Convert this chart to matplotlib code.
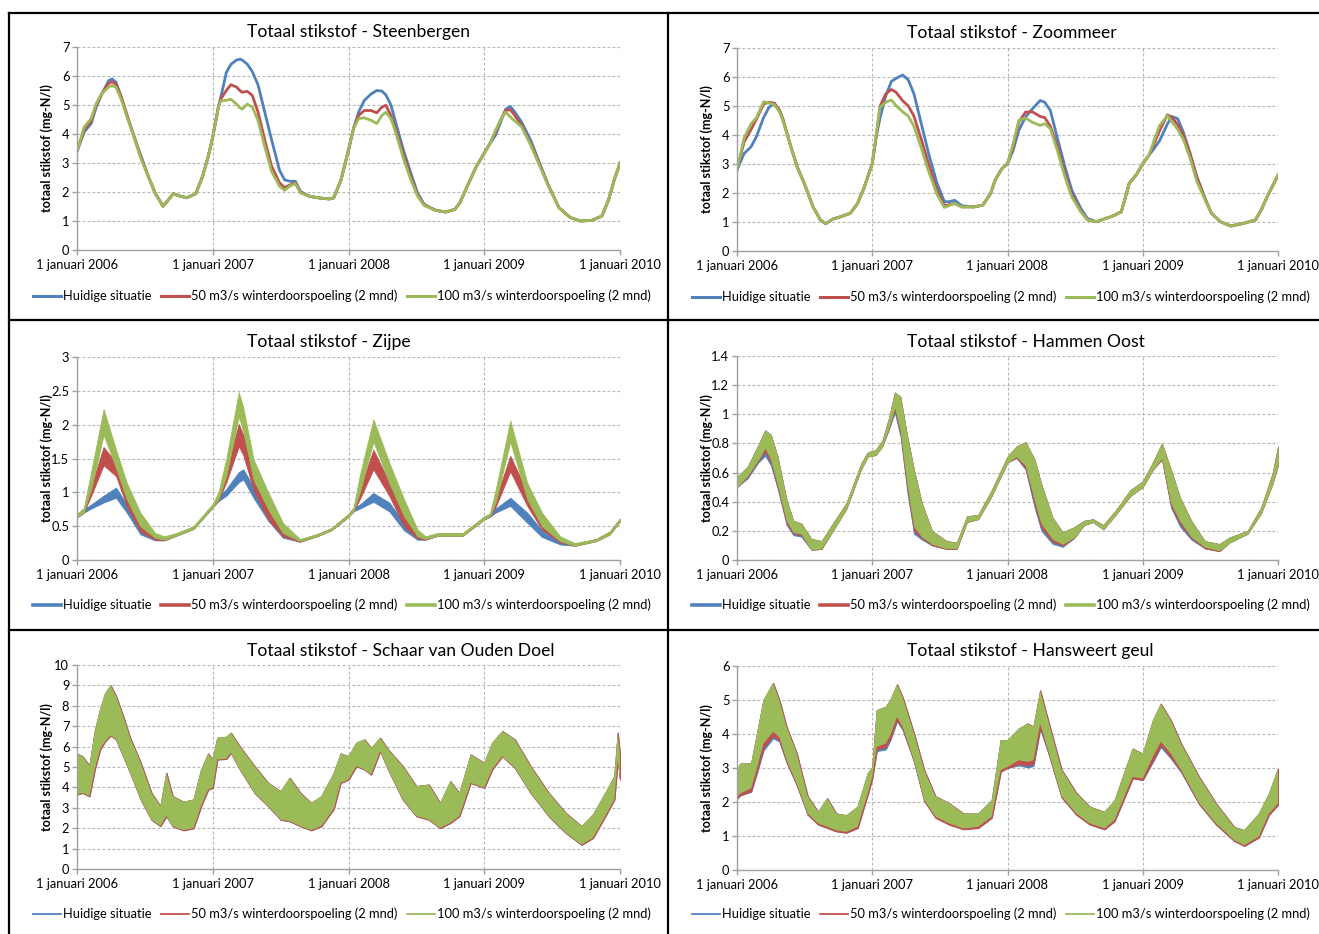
import matplotlib
matplotlib.use("Agg")
import matplotlib.pyplot as plt
from matplotlib.lines import Line2D
from matplotlib.ticker import MultipleLocator, FuncFormatter

plt.rcParams['font.family'] = ['Lato', 'DejaVu Sans']

BLUE, RED, GREEN = "#4F81BD", "#C0504D", "#9BBB59"
series_labels = ["Huidige situatie", "50 m3/s winterdoorspoeling (2 mnd)",
                 "100 m3/s winterdoorspoeling (2 mnd)"]
year_ticks = [0, 12, 24, 36, 48]          # months since 1 jan 2006
year_labels = ["1 januari 2006", "1 januari 2007", "1 januari 2008",
               "1 januari 2009", "1 januari 2010"]
ylabel = "totaal stikstof (mg-N/l)"

# --- Steenbergen (lines) ---
steen_t = [0, 0.63, 1.25, 1.7, 2.2, 2.8, 3.1, 3.45, 3.9, 4.5, 5.1, 5.6, 6.3, 6.9, 7.6, 8.0, 8.5, 9.1, 9.7, 10.5,
           11.1, 11.6, 12.0, 12.5, 12.7, 13.2, 13.6, 14.1, 14.4, 14.6, 15.05, 15.5, 16.0, 16.6, 17.2, 17.9, 18.35,
           18.8, 19.3, 19.75, 20.5, 21.3, 22.3, 22.7, 23.35, 24.0, 24.45, 24.9, 25.4, 26.0, 26.5, 26.95, 27.3,
           27.75, 28.2, 28.85, 29.5, 30.1, 30.7, 31.7, 32.6, 33.4, 33.85, 34.5, 35.3, 36.0, 36.5, 37.0, 37.5,
           37.9, 38.3, 38.7, 39.3, 40.1, 40.9, 41.7, 42.6, 43.6, 44.5, 45.5, 46.4, 47.0, 47.5, 48.0]
steen_blue = [3.4, 4.07, 4.36, 4.93, 5.38, 5.84, 5.9, 5.78, 5.27, 4.53,
              3.85, 3.3, 2.54, 1.97, 1.51, 1.69, 1.94, 1.86, 1.8, 1.94,
              2.54, 3.22, 3.9, 4.93, 5.25, 6.12, 6.4, 6.55, 6.58, 6.55,
              6.41, 6.15, 5.7, 4.75, 3.8, 2.75, 2.42, 2.37, 2.37, 2.02,
              1.86, 1.8, 1.76, 1.8, 2.43, 3.45, 4.2, 4.76, 5.16, 5.38,
              5.5, 5.48, 5.35, 5.0, 4.36, 3.45, 2.66, 1.97, 1.57, 1.37,
              1.31, 1.4, 1.63, 2.2, 2.88, 3.34, 3.67, 3.96, 4.47, 4.86,
              4.95, 4.76, 4.41, 3.79, 2.99, 2.2, 1.46, 1.12, 1.0, 1.02,
              1.17, 1.74, 2.43, 3.0]
steen_red = [3.4, 4.15, 4.45, 5.0, 5.4, 5.75, 5.8, 5.72, 5.3, 4.56,
             3.85, 3.25, 2.54, 1.97, 1.51, 1.69, 1.94, 1.86, 1.8, 1.94,
             2.54, 3.22, 3.9, 4.93, 5.2, 5.5, 5.7, 5.62, 5.5, 5.44,
             5.47, 5.33, 4.76, 3.79, 2.89, 2.32, 2.15, 2.24, 2.32, 1.99,
             1.86, 1.8, 1.76, 1.8, 2.43, 3.45, 4.2, 4.64, 4.81, 4.81,
             4.73, 4.93, 4.99, 4.64, 4.13, 3.3, 2.54, 1.91, 1.55, 1.37,
             1.31, 1.4, 1.63, 2.2, 2.88, 3.34, 3.67, 4.07, 4.53, 4.81,
             4.84, 4.64, 4.3, 3.67, 2.95, 2.2, 1.46, 1.12, 1.0, 1.02,
             1.17, 1.74, 2.43, 3.0]
steen_green = [3.4, 4.24, 4.53, 5.05, 5.4, 5.62, 5.67, 5.62, 5.2, 4.5,
               3.82, 3.2, 2.54, 1.97, 1.51, 1.69, 1.94, 1.86, 1.8, 1.94,
               2.54, 3.22, 3.9, 4.93, 5.14, 5.16, 5.2, 5.03, 4.9, 4.86,
               5.03, 4.93, 4.47, 3.56, 2.71, 2.2, 2.06, 2.2, 2.29, 1.97,
               1.86, 1.8, 1.76, 1.8, 2.43, 3.45, 4.2, 4.53, 4.56, 4.47,
               4.36, 4.64, 4.75, 4.53, 4.02, 3.16, 2.43, 1.86, 1.53, 1.37,
               1.31, 1.4, 1.63, 2.2, 2.88, 3.34, 3.67, 4.13, 4.53, 4.76,
               4.59, 4.45, 4.25, 3.62, 2.9, 2.18, 1.46, 1.12, 1.0, 1.02,
               1.17, 1.74, 2.43, 3.0]

# --- Zoommeer (lines) ---
zoom_t = [0, 0.63, 1.26, 1.73, 2.36, 2.83, 3.3, 3.77, 4.08, 4.7, 5.34, 5.97, 6.75, 7.4, 7.85, 8.5, 9.1, 10.05,
          10.7, 11.3, 12.0, 12.4, 12.7, 13.2, 13.7, 14.1, 14.7, 15.2, 15.7, 16.35, 17.0, 17.75, 18.4, 18.85,
          19.3, 19.95, 21.0, 21.8, 22.5, 22.9, 23.5, 24.0, 24.5, 25.0, 25.6, 26.2, 26.9, 27.3, 27.8, 28.4,
          29.1, 29.7, 30.5, 31.1, 31.9, 32.7, 33.3, 34.1, 34.8, 35.5, 36.0, 36.55, 37.0, 37.5, 38.2, 38.6,
          39.1, 39.6, 40.2, 40.8, 41.6, 42.1, 42.9, 43.8, 44.9, 46.0, 46.5, 47.1, 48.0]
zoom_blue = [2.8, 3.36, 3.6, 3.95, 4.6, 4.95, 5.1, 4.85, 4.5, 3.7,
             2.9, 2.33, 1.52, 1.07, 0.94, 1.1, 1.17, 1.3, 1.64, 2.21,
             3.01, 4.04, 4.6, 5.35, 5.85, 5.95, 6.07, 5.9, 5.42, 4.39,
             3.36, 2.33, 1.7, 1.7, 1.75, 1.56, 1.52, 1.58, 1.98, 2.44,
             2.84, 3.01, 3.47, 4.16, 4.62, 4.9, 5.19, 5.13, 4.85, 3.93,
             2.9, 2.1, 1.47, 1.12, 1.01, 1.12, 1.2, 1.35, 2.33, 2.67,
             3.01, 3.3, 3.53, 3.81, 4.39, 4.64, 4.56, 4.1, 3.36, 2.55,
             1.75, 1.3, 1.01, 0.86, 0.95, 1.07, 1.41, 1.92, 2.61]
zoom_red = [2.8, 3.76, 4.2, 4.55, 5.07, 5.13, 5.1, 4.85, 4.55, 3.7,
            2.9, 2.33, 1.52, 1.07, 0.94, 1.1, 1.17, 1.3, 1.64, 2.21,
            3.01, 4.1, 5.0, 5.42, 5.57, 5.48, 5.18, 5.0, 4.65, 3.85,
            3.0, 2.1, 1.56, 1.6, 1.64, 1.52, 1.52, 1.58, 1.98, 2.44,
            2.84, 3.01, 3.6, 4.44, 4.79, 4.8, 4.64, 4.6, 4.3, 3.65,
            2.67, 1.95, 1.38, 1.07, 1.01, 1.12, 1.2, 1.35, 2.33, 2.67,
            3.01, 3.3, 3.7, 4.16, 4.7, 4.6, 4.35, 4.0, 3.35, 2.55,
            1.72, 1.3, 1.01, 0.86, 0.95, 1.07, 1.41, 1.92, 2.61]
zoom_green = [2.8, 3.9, 4.39, 4.6, 5.15, 5.1, 5.05, 4.8, 4.5, 3.7,
              2.9, 2.33, 1.52, 1.07, 0.94, 1.1, 1.17, 1.3, 1.64, 2.21,
              3.01, 4.16, 4.96, 5.13, 5.21, 5.02, 4.8, 4.65, 4.3, 3.55,
              2.75, 1.95, 1.5, 1.57, 1.64, 1.52, 1.52, 1.58, 1.98, 2.44,
              2.84, 3.01, 3.7, 4.5, 4.59, 4.44, 4.33, 4.39, 4.22, 3.5,
              2.55, 1.87, 1.35, 1.07, 1.01, 1.12, 1.2, 1.35, 2.33, 2.67,
              3.01, 3.3, 3.81, 4.33, 4.67, 4.44, 4.2, 3.85, 3.2, 2.4,
              1.7, 1.3, 1.01, 0.86, 0.95, 1.07, 1.41, 1.92, 2.61]

# --- Zijpe (bands: lower / upper envelope of the tidal signal) ---
zijpe_t = [0, 0.6, 1.25, 2.35, 3.45, 4.4, 5.6, 6.9, 7.7, 8.8, 10.3, 12.0, 12.5, 13.2, 14.3, 14.7, 15.6, 16.9,
           18.2, 19.7, 21.2, 22.5, 24.0, 24.45, 25.0, 26.2, 27.6, 28.9, 30.1, 30.8, 31.9, 34.1, 36.0, 36.5,
           37.0, 38.3, 39.8, 41.1, 42.7, 44.0, 45.9, 47.1, 48.0]
zijpe_blue_lo = [0.63, 0.70, 0.76, 0.85, 0.92, 0.70, 0.38, 0.29, 0.29, 0.36, 0.46, 0.78, 0.87, 0.95, 1.15,
                 1.19, 0.92, 0.58, 0.33, 0.27, 0.35, 0.44, 0.64, 0.72, 0.76, 0.86, 0.72, 0.44, 0.30, 0.30,
                 0.36, 0.36, 0.60, 0.64, 0.70, 0.80, 0.55, 0.34, 0.23, 0.21, 0.28, 0.38, 0.57]
zijpe_blue_hi = [0.68, 0.75, 0.82, 0.95, 1.07, 0.82, 0.46, 0.33, 0.32, 0.39, 0.49, 0.82, 0.93, 1.05, 1.30,
                 1.34, 1.08, 0.68, 0.40, 0.30, 0.38, 0.47, 0.68, 0.77, 0.82, 0.99, 0.85, 0.55, 0.34, 0.34,
                 0.39, 0.39, 0.64, 0.68, 0.76, 0.92, 0.70, 0.44, 0.27, 0.24, 0.31, 0.42, 0.61]
zijpe_red_lo = [0.63, 0.70, 0.95, 1.40, 1.24, 0.80, 0.42, 0.30, 0.29, 0.36, 0.46, 0.78, 0.88, 1.15, 1.68,
                1.55, 1.04, 0.60, 0.35, 0.27, 0.35, 0.44, 0.64, 0.72, 0.90, 1.34, 0.95, 0.50, 0.32, 0.30,
                0.36, 0.36, 0.60, 0.64, 0.78, 1.31, 0.80, 0.45, 0.26, 0.21, 0.28, 0.38, 0.57]
zijpe_red_hi = [0.68, 0.75, 1.09, 1.67, 1.44, 1.00, 0.58, 0.36, 0.32, 0.39, 0.49, 0.82, 0.95, 1.33, 2.01,
                1.85, 1.29, 0.80, 0.45, 0.30, 0.38, 0.47, 0.68, 0.77, 1.05, 1.63, 1.15, 0.70, 0.40, 0.34,
                0.39, 0.39, 0.64, 0.68, 0.89, 1.54, 1.00, 0.60, 0.32, 0.24, 0.31, 0.42, 0.61]
zijpe_green_lo = [0.63, 0.71, 1.05, 1.85, 1.36, 0.90, 0.50, 0.33, 0.30, 0.36, 0.46, 0.78, 0.90, 1.25, 2.12,
                  1.90, 1.19, 0.75, 0.40, 0.28, 0.35, 0.44, 0.64, 0.73, 1.00, 1.75, 1.14, 0.65, 0.35, 0.31,
                  0.36, 0.36, 0.60, 0.65, 0.85, 1.75, 0.90, 0.50, 0.28, 0.21, 0.28, 0.38, 0.57]
zijpe_green_hi = [0.68, 0.77, 1.30, 2.23, 1.63, 1.14, 0.70, 0.40, 0.35, 0.40, 0.50, 0.83, 1.00, 1.50, 2.48,
                  2.25, 1.49, 1.00, 0.55, 0.31, 0.38, 0.47, 0.68, 0.78, 1.25, 2.08, 1.44, 0.90, 0.45, 0.35,
                  0.40, 0.40, 0.64, 0.69, 1.03, 2.06, 1.14, 0.70, 0.35, 0.25, 0.31, 0.42, 0.61]

# --- Hammen Oost (bands; blue/red only show below the green band) ---
hammen_t = [0, 0.94, 1.9, 2.5, 3.0, 3.6, 4.4, 5.0, 5.7, 6.6, 7.5, 8.5, 9.7, 11.0, 11.6, 12.3, 12.9, 13.5, 14.0,
            14.5, 15.1, 15.7, 16.4, 17.3, 18.6, 19.5, 20.4, 21.4, 22.6, 24.0, 24.8, 25.6, 26.4, 27.0, 28.0,
            28.9, 29.9, 30.8, 31.6, 32.5, 33.6, 34.9, 36.0, 36.9, 37.7, 38.5, 39.3, 40.3, 41.5, 42.8, 43.7,
            45.3, 46.5, 47.5, 48.0]
hammen_hi = [0.57, 0.64, 0.79, 0.89, 0.86, 0.71, 0.41, 0.27, 0.25, 0.145, 0.13, 0.25, 0.39, 0.66, 0.74, 0.755,
             0.82, 0.98, 1.15, 1.12, 0.85, 0.62, 0.39, 0.2, 0.13, 0.12, 0.3, 0.31, 0.48, 0.71, 0.78, 0.81, 0.69,
             0.52, 0.29, 0.19, 0.225, 0.27, 0.28, 0.24, 0.34, 0.48, 0.54, 0.67, 0.80, 0.62, 0.43, 0.27, 0.13,
             0.11, 0.155, 0.2, 0.36, 0.59, 0.78]
hammen_green_lo = [0.50, 0.58, 0.69, 0.77, 0.69, 0.52, 0.27, 0.19, 0.18, 0.07, 0.08, 0.2, 0.35, 0.62, 0.71,
                   0.72, 0.78, 0.92, 1.05, 0.89, 0.52, 0.23, 0.16, 0.11, 0.08, 0.08, 0.26, 0.28, 0.44, 0.67,
                   0.71, 0.65, 0.41, 0.25, 0.145, 0.11, 0.155, 0.24, 0.26, 0.21, 0.31, 0.44, 0.50, 0.62, 0.70,
                   0.39, 0.27, 0.16, 0.09, 0.065, 0.12, 0.18, 0.32, 0.52, 0.66]
hammen_red_lo = [0.50, 0.57, 0.68, 0.745, 0.67, 0.50, 0.25, 0.18, 0.17, 0.07, 0.075, 0.2, 0.35, 0.62, 0.71,
                 0.72, 0.78, 0.91, 1.03, 0.87, 0.49, 0.20, 0.15, 0.10, 0.075, 0.075, 0.26, 0.28, 0.44, 0.67,
                 0.70, 0.63, 0.38, 0.22, 0.125, 0.10, 0.15, 0.24, 0.26, 0.21, 0.31, 0.44, 0.50, 0.62, 0.69,
                 0.37, 0.25, 0.15, 0.08, 0.06, 0.12, 0.18, 0.32, 0.52, 0.65]
hammen_blue_lo = [0.50, 0.56, 0.67, 0.715, 0.65, 0.49, 0.24, 0.17, 0.16, 0.07, 0.075, 0.2, 0.35, 0.62, 0.71,
                  0.72, 0.78, 0.90, 1.01, 0.85, 0.47, 0.18, 0.14, 0.10, 0.075, 0.075, 0.26, 0.28, 0.44, 0.67,
                  0.70, 0.62, 0.36, 0.20, 0.11, 0.09, 0.15, 0.24, 0.26, 0.21, 0.31, 0.44, 0.50, 0.62, 0.69,
                  0.36, 0.23, 0.14, 0.08, 0.06, 0.12, 0.18, 0.32, 0.52, 0.65]

# --- Schaar van Ouden Doel (bands; the three scenarios coincide) ---
schaar_t = [0, 0.47, 1.1, 1.57, 2.04, 2.5, 2.98, 3.45, 4.08, 4.7, 5.64, 6.58, 7.37, 7.9, 8.46, 9.4, 10.3, 10.97,
            11.6, 12.0, 12.4, 13.2, 13.6, 14.4, 15.7, 16.9, 18.0, 18.8, 19.75, 20.7, 21.6, 22.7, 23.3, 24.0,
            24.7, 25.4, 26.0, 26.8, 27.5, 28.8, 30.0, 31.1, 32.1, 33.0, 33.8, 34.8, 36.0, 36.7, 37.6, 38.7,
            40.1, 41.7, 43.2, 44.6, 45.6, 46.7, 47.5, 47.8, 48.0]
schaar_hi = [5.65, 5.53, 5.07, 6.76, 7.82, 8.64, 9.0, 8.48, 7.5, 6.43, 5.2, 3.73, 3.08, 4.71, 3.57, 3.3, 3.4,
             4.88, 5.66, 5.37, 6.43, 6.48, 6.68, 6.0, 5.04, 4.22, 3.81, 4.47, 3.73, 3.24, 3.57, 4.71, 5.66,
             5.53, 6.19, 6.35, 5.94, 6.43, 5.86, 5.04, 4.06, 4.14, 3.24, 4.3, 3.73, 5.61, 5.2, 6.19, 6.76,
             6.35, 5.04, 3.73, 2.75, 2.1, 2.67, 3.73, 4.55, 6.68, 5.6]
schaar_lo = [3.65, 3.73, 3.57, 4.88, 5.86, 6.27, 6.55, 6.35, 5.53, 4.71, 3.4, 2.42, 2.1, 2.59, 2.1, 1.9, 2.0,
             3.08, 3.9, 3.98, 5.37, 5.4, 5.7, 4.88, 3.73, 3.08, 2.42, 2.34, 2.1, 1.9, 2.1, 2.95, 4.22, 4.39,
             5.04, 4.88, 4.63, 5.78, 4.88, 3.4, 2.59, 2.42, 2.01, 2.26, 2.59, 4.22, 3.98, 4.88, 5.53, 4.96,
             3.73, 2.59, 1.77, 1.19, 1.52, 2.59, 3.4, 5.37, 4.4]

# --- Hansweert geul (bands) ---
hans_t = [0, 0.3, 1.25, 1.72, 2.35, 3.2, 3.76, 4.4, 5.3, 6.27, 7.2, 8.0, 8.8, 9.7, 10.7, 11.6, 12.0, 12.4, 13.2,
          13.6, 14.2, 14.7, 15.7, 16.6, 17.6, 18.8, 20.1, 21.4, 22.6, 23.4, 24.0, 25.0, 25.8, 26.3, 26.9, 27.6,
          28.8, 30.1, 31.3, 32.6, 33.5, 35.1, 36.0, 36.9, 37.6, 38.5, 39.4, 41.0, 42.5, 44.1, 45.0, 46.3, 47.2,
          48.0]
hans_hi = [2.95, 3.13, 3.13, 3.92, 5.0, 5.5, 5.0, 4.21, 3.43, 2.17, 1.71, 2.11, 1.66, 1.61, 1.86, 2.84, 3.03,
           4.7, 4.8, 5.0, 5.46, 5.08, 4.02, 2.95, 2.17, 1.97, 1.66, 1.66, 2.05, 3.82, 3.82, 4.16, 4.31, 4.21,
           5.28, 4.4, 2.95, 2.27, 1.86, 1.71, 2.05, 3.57, 3.42, 4.4, 4.89, 4.4, 3.72, 2.74, 1.96, 1.27, 1.17,
           1.66, 2.25, 2.98]
hans_green_lo = [2.15, 2.25, 2.4, 2.94, 3.72, 4.06, 3.91, 3.23, 2.54, 1.66, 1.37, 1.27, 1.17, 1.12, 1.27, 2.25,
                 2.74, 3.62, 3.72, 3.96, 4.5, 4.21, 3.23, 2.07, 1.57, 1.37, 1.22, 1.27, 1.57, 2.94, 3.03, 3.23,
                 3.18, 3.23, 4.3, 3.52, 2.17, 1.66, 1.37, 1.22, 1.47, 2.74, 2.69, 3.33, 3.77, 3.42, 2.94, 1.97,
                 1.37, 0.88, 0.73, 0.98, 1.66, 1.95]
hans_red_lo = [2.1, 2.2, 2.32, 2.85, 3.6, 3.95, 3.82, 3.18, 2.5, 1.63, 1.34, 1.24, 1.14, 1.1, 1.24, 2.22, 2.7,
               3.55, 3.62, 3.88, 4.42, 4.15, 3.2, 2.04, 1.54, 1.34, 1.2, 1.24, 1.54, 2.9, 3.0, 3.12, 3.08, 3.12,
               4.2, 3.48, 2.14, 1.63, 1.34, 1.2, 1.44, 2.7, 2.65, 3.22, 3.68, 3.32, 2.9, 1.94, 1.34, 0.86, 0.71,
               0.96, 1.63, 1.92]
hans_blue_lo = [2.1, 2.2, 2.3, 2.8, 3.52, 3.88, 3.78, 3.16, 2.5, 1.63, 1.34, 1.24, 1.14, 1.1, 1.24, 2.22, 2.7,
                3.5, 3.55, 3.82, 4.38, 4.12, 3.2, 2.04, 1.54, 1.34, 1.2, 1.24, 1.54, 2.9, 3.0, 3.08, 3.02, 3.06,
                4.15, 3.46, 2.14, 1.63, 1.34, 1.2, 1.44, 2.7, 2.65, 3.18, 3.62, 3.28, 2.88, 1.94, 1.34, 0.86,
                0.71, 0.96, 1.63, 1.92]

W, H = 1319, 934
fig = plt.figure(figsize=(W / 100, H / 100), dpi=100)


def px_axes(x0, y0, x1, y1):
    return fig.add_axes([x0 / W, 1 - y1 / H, (x1 - x0) / W, (y1 - y0) / H])


def fig_line(xs, ys):
    fig.add_artist(Line2D([x / W for x in xs], [1 - y / H for y in ys], color="black", lw=1.6))


# panel frames
for y in (13, 320, 630):
    fig_line([9, W], [y, y])
for x in (9, 668):
    fig_line([x, x], [13, H])


def style(ax, ymax, ystep, title, tx, ty, lx, ly, lw_leg):
    ax.set_xlim(0, 48)
    ax.set_ylim(0, ymax)
    ax.set_xticks(year_ticks)
    ax.set_xticklabels(year_labels)
    ax.yaxis.set_major_locator(MultipleLocator(ystep))
    ax.yaxis.set_major_formatter(FuncFormatter(lambda v, p: f"{v:g}"))
    ax.grid(True, color="#b4b4b4", ls=(0, (2.5, 2)), lw=0.8)
    ax.set_axisbelow(True)
    for s in ("top", "right"):
        ax.spines[s].set_visible(False)
    for s in ("left", "bottom"):
        ax.spines[s].set_color("#a0a0a0")
        ax.spines[s].set_linewidth(1.0)
    ax.tick_params(colors="#a0a0a0", labelcolor="black", labelsize=9.3, length=3.5, width=1.0)
    ax.tick_params(axis="x", pad=3)
    ax.tick_params(axis="y", pad=2)
    pos = ax.get_position()
    yl_x = (47 if pos.x0 < 0.5 else 707) / W
    fig.text(yl_x, pos.y0 + pos.height / 2, ylabel, rotation=90, ha="center", va="center",
             fontsize=9, fontweight="bold")
    fig.text(tx / W, 1 - ty / H, title, fontsize=12.6, ha="left", va="center")
    handles = [Line2D([], [], color=c, lw=lw_leg) for c in (BLUE, RED, GREEN)]
    ax.legend(handles, series_labels, loc="center", bbox_to_anchor=(lx / W, 1 - ly / H),
              bbox_transform=fig.transFigure, ncol=3, frameon=False, fontsize=9.3,
              handlelength=2.15, handletextpad=0.15, columnspacing=0.78, borderpad=0)


# Steenbergen
ax = px_axes(77, 47, 620, 250)
ax.plot(steen_t, steen_blue, color=BLUE, lw=2)
ax.plot(steen_t, steen_red, color=RED, lw=2)
ax.plot(steen_t, steen_green, color=GREEN, lw=2)
style(ax, 7, 1, "Totaal stikstof - Steenbergen", 247, 32, 342, 296, 2.2)

# Zoommeer
ax = px_axes(737, 48, 1278, 251)
ax.plot(zoom_t, zoom_blue, color=BLUE, lw=2)
ax.plot(zoom_t, zoom_red, color=RED, lw=2)
ax.plot(zoom_t, zoom_green, color=GREEN, lw=2)
style(ax, 7, 1, "Totaal stikstof - Zoommeer", 907, 33, 1001, 297, 2.2)

# Zijpe
ax = px_axes(77, 357, 620, 560)
ax.fill_between(zijpe_t, zijpe_blue_lo, zijpe_blue_hi, facecolor=BLUE, edgecolor=BLUE, lw=0.6)
ax.fill_between(zijpe_t, zijpe_red_lo, zijpe_red_hi, facecolor=RED, edgecolor=RED, lw=0.6)
ax.fill_between(zijpe_t, zijpe_green_lo, zijpe_green_hi, facecolor=GREEN, edgecolor=GREEN, lw=0.6)
style(ax, 3, 0.5, "Totaal stikstof - Zijpe", 247, 342, 342, 605, 2.6)

# Hammen Oost
ax = px_axes(737, 356, 1278, 560)
ax.fill_between(hammen_t, hammen_blue_lo, hammen_hi, facecolor=BLUE, edgecolor=BLUE, lw=0.5)
ax.fill_between(hammen_t, hammen_red_lo, hammen_hi, facecolor=RED, edgecolor=RED, lw=0.5)
ax.fill_between(hammen_t, hammen_green_lo, hammen_hi, facecolor=GREEN, edgecolor=GREEN, lw=0.4)
style(ax, 1.4, 0.2, "Totaal stikstof - Hammen Oost", 907, 342, 1001, 605, 2.6)

# Schaar van Ouden Doel
ax = px_axes(77, 665, 620, 869)
ax.fill_between(schaar_t, schaar_lo, schaar_hi, facecolor=BLUE, edgecolor=BLUE, lw=0.8)
ax.fill_between(schaar_t, schaar_lo, schaar_hi, facecolor=RED, edgecolor=RED, lw=0.8)
ax.fill_between(schaar_t, schaar_lo, schaar_hi, facecolor=GREEN, lw=0)
style(ax, 10, 1, "Totaal stikstof - Schaar van Ouden Doel", 247, 651, 342, 914, 1.3)

# Hansweert geul
ax = px_axes(737, 666, 1278, 870)
ax.fill_between(hans_t, hans_blue_lo, hans_hi, facecolor=BLUE, edgecolor=BLUE, lw=0.8)
ax.fill_between(hans_t, hans_red_lo, hans_hi, facecolor=RED, edgecolor=RED, lw=0.8)
ax.fill_between(hans_t, hans_green_lo, hans_hi, facecolor=GREEN, lw=0)
style(ax, 6, 1, "Totaal stikstof - Hansweert geul", 907, 651, 1001, 914, 1.3)

fig.savefig("out.png", dpi=100)
